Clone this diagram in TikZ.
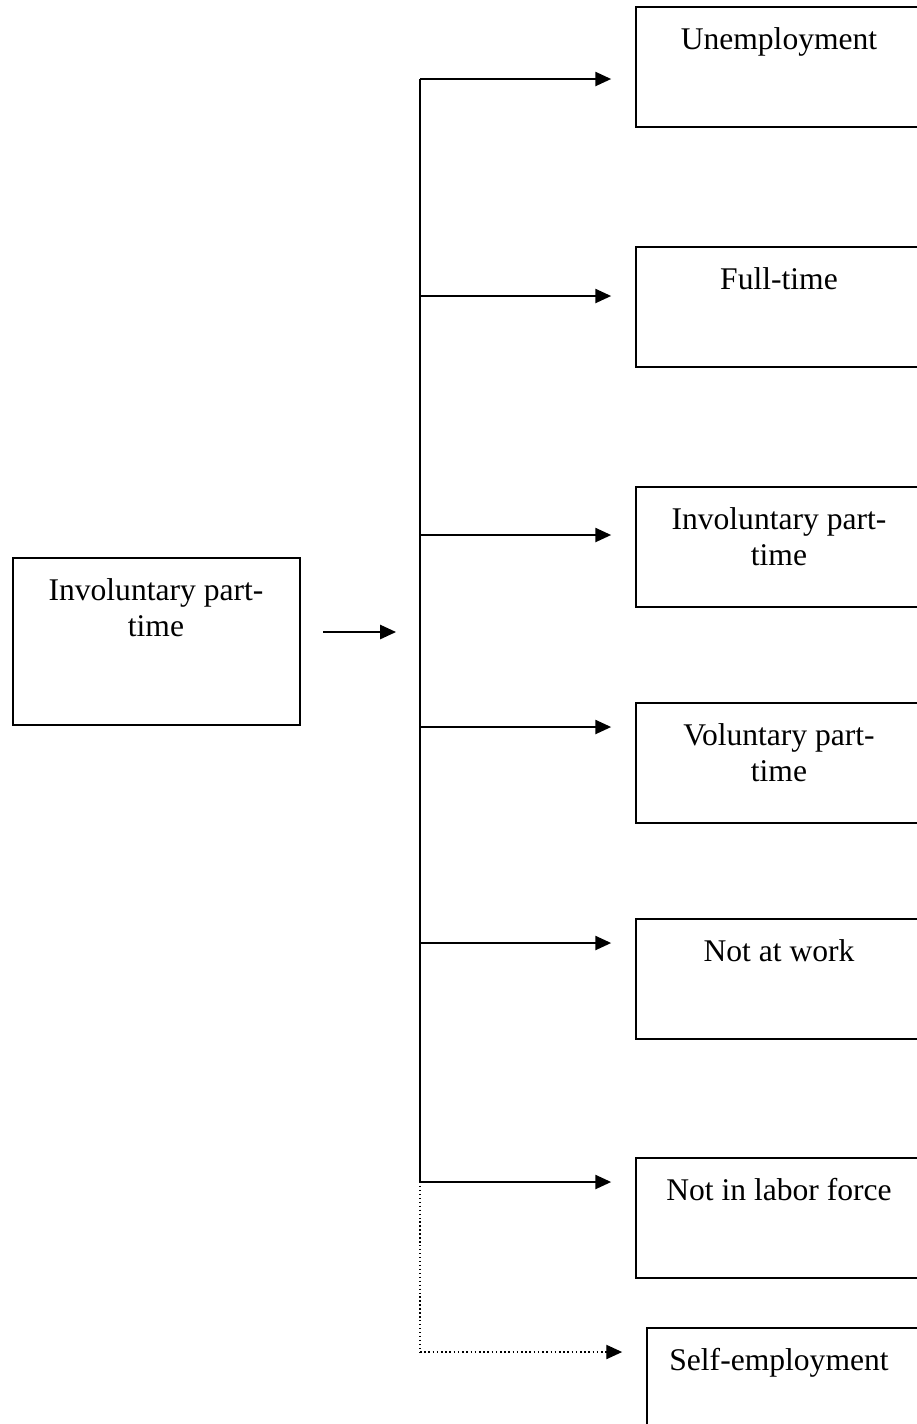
\documentclass[tikz,border=0pt]{standalone}
\usepackage{fontspec}
\setmainfont{Liberation Serif}
\usetikzlibrary{arrows.meta,positioning}

\begin{document}
\begin{tikzpicture}[x=0.38pt,y=-0.38pt]
\tikzstyle{box}=[rectangle, draw =black, line width=0.75pt, minimum width = 109.4pt, minimum height = 45.6pt, inner sep=0pt]
\tikzstyle{txt}=[anchor=north, align=center, inner sep=0pt, font=\fontsize{12}{13.8}\selectfont]
\tikzstyle{connect}=[-{Triangle[length=6pt,width=5.4pt]}, line width=0.6pt]
\tikzstyle{trunk}=[line width=0.75pt]
\tikzstyle{maybe}=[densely dotted, line width=0.5pt]
\useasboundingbox (0,0) rectangle (917,1424);
  % source state
  \node[box, minimum height = 63.5pt] (src) at (156.5,641.5) { };
  \node[txt] (srcl) at (156,578) {Involuntary part-\\time};
  % destination states
  \node[box] (b1) at (780,67) { };
  \node[box] (b2) at (780,307) { };
  \node[box] (b3) at (780,547) { };
  \node[box] (b4) at (780,763) { };
  \node[box] (b5) at (780,978.5) { };
  \node[box] (b6) at (780,1217.5) { };
  \node[box] (b7) at (791,1388) { };
  \node[txt] (l1) at (779,27) {Unemployment};
  \node[txt] (l2) at (779,267) {Full-time};
  \node[txt] (l3) at (779,507) {Involuntary part-\\time};
  \node[txt] (l4) at (779,723) {Voluntary part-\\time};
  \node[txt] (l5) at (779,939) {Not at work};
  \node[txt] (l6) at (779,1178) {Not in labor force};
  \node[txt] (l7) at (779,1348) {Self-employment};
  % branch points
  \coordinate (s0) at (323,632);
  \coordinate (s1) at (396,632);
  \coordinate (t1) at (420,79);
  \coordinate (t2) at (420,296);
  \coordinate (t3) at (420,535);
  \coordinate (t4) at (420,727);
  \coordinate (t5) at (420,943);
  \coordinate (t6) at (420,1182);
  \coordinate (t7) at (420,1352);
  \draw[connect] (s0) -- (s1);
  \draw[trunk] (t1) -- (t6);
  \draw[maybe] (t6) -- (t7);
  \path (t1) edge[connect, shorten >=9.1pt] (t1 -| b1.west)
        (t2) edge[connect, shorten >=9.1pt] (t2 -| b2.west)
        (t3) edge[connect, shorten >=9.1pt] (t3 -| b3.west)
        (t4) edge[connect, shorten >=9.1pt] (t4 -| b4.west)
        (t5) edge[connect, shorten >=9.1pt] (t5 -| b5.west)
        (t6) edge[connect, shorten >=9.1pt] (t6 -| b6.west)
        (t7) edge[connect, maybe, shorten >=9.1pt] (t7 -| b7.west)
        ;
\end{tikzpicture}
\end{document}
